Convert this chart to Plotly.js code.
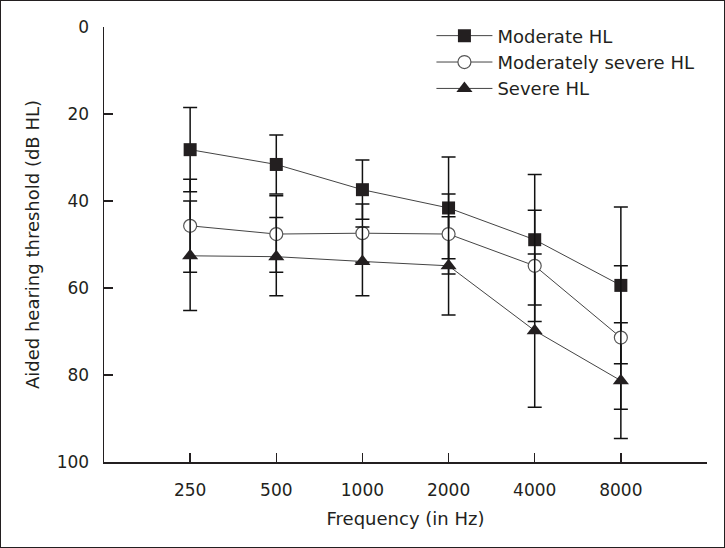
<!DOCTYPE html>
<html>
<head>
<meta charset="utf-8">
<script src="https://cdn.plot.ly/plotly-3.0.1.min.js"></script>
<style>
  html, body { margin: 0; padding: 0; background: #fff; }
  #plot { position: absolute; left: 0; top: 0; width: 725px; height: 548px; }
  #frame { position: absolute; left: 0; top: 0; width: 725px; height: 548px; box-sizing: border-box; border: 1px solid #231f20; pointer-events: none; }
</style>
</head>
<body>
<div id="plot"></div>
<div id="frame"></div>
<script>
// Frequencies (Hz) as categories
const frequencies = ['250', '500', '1000', '2000', '4000', '8000'];

// Mean aided thresholds (dB HL) and standard deviations
const moderateMean = [28.2, 31.6, 37.4, 41.6, 48.9, 59.4];
const moderateSD   = [9.7, 6.8, 6.8, 11.7, 15.0, 18.0];

const modSevereMean = [45.7, 47.6, 47.4, 47.6, 54.9, 71.4];
const modSevereSD   = [10.7, 8.8, 6.7, 9.2, 12.8, 16.5];

const severeMean = [52.6, 52.8, 53.9, 54.9, 69.8, 81.3];
const severeSD   = [12.6, 9.0, 7.9, 11.3, 17.6, 13.3];

const yTicks = [0, 20, 40, 60, 80, 100];

const FONT = '"DejaVu Sans", "Open Sans", sans-serif';
const TXT = '#231f20';

function errBar(sd) {
  return { type: 'data', array: sd, visible: true, color: '#111', thickness: 1.5, width: 7 };
}

const traces = [
  {
    x: frequencies, y: moderateMean, name: 'Moderate HL', type: 'scatter', mode: 'lines+markers',
    line: { color: '#444', width: 1 },
    marker: { symbol: 'square', size: 13, color: '#231f20', line: { width: 0 } },
    error_y: errBar(moderateSD), legendgroup: 'a'
  },
  {
    x: frequencies, y: modSevereMean, name: 'Moderately severe HL', type: 'scatter', mode: 'lines+markers',
    line: { color: '#444', width: 1 },
    marker: { symbol: 'circle', size: 13, color: '#ffffff', line: { color: '#555', width: 1.2 } },
    error_y: errBar(modSevereSD), legendgroup: 'b'
  },
  {
    x: frequencies, y: severeMean, name: 'Severe HL', type: 'scatter', mode: 'lines+markers',
    line: { color: '#444', width: 1 },
    marker: { symbol: 'triangle-up', size: 14, color: '#231f20', line: { width: 0 } },
    error_y: errBar(severeSD), legendgroup: 'c'
  }
];

const layout = {
  width: 725, height: 548,
  margin: { l: 104, r: 18.3, t: 27.3, b: 85.7, pad: 0 },
  paper_bgcolor: '#fff', plot_bgcolor: '#fff',
  font: { family: FONT, color: TXT, size: 17 },
  showlegend: true,
  legend: {
    x: 0.543, y: 1.022, xanchor: 'left', yanchor: 'top',
    bgcolor: 'rgba(0,0,0,0)', font: { family: FONT, size: 18, color: TXT },
    tracegroupgap: 0, itemwidth: 56
  },
  xaxis: {
    type: 'category', range: [-1, 6],
    showline: true, linecolor: '#231f20', linewidth: 1.5,
    ticks: 'inside', ticklen: 9, tickwidth: 1.5, tickcolor: '#231f20',
    showgrid: false, zeroline: false, fixedrange: true,
    tickfont: { family: FONT, size: 17, color: TXT },
    ticklabelstandoff: 12,
    title: { text: 'Frequency (in Hz)', font: { family: FONT, size: 18, color: TXT }, standoff: 13 }
  },
  yaxis: {
    range: [100, 0], tickvals: yTicks, ticktext: yTicks.map(String),
    showline: true, linecolor: '#231f20', linewidth: 1.5,
    ticks: 'inside', ticklen: 9, tickwidth: 1.5, tickcolor: '#231f20',
    showgrid: false, zeroline: false, fixedrange: true,
    tickfont: { family: FONT, size: 17, color: TXT },
    ticklabelstandoff: 10,
    title: { text: 'Aided hearing threshold (dB HL)', font: { family: FONT, size: 18, color: TXT }, standoff: 12 }
  }
};

Plotly.newPlot('plot', traces, layout, { staticPlot: true, displayModeBar: false });
</script>
</body>
</html>
